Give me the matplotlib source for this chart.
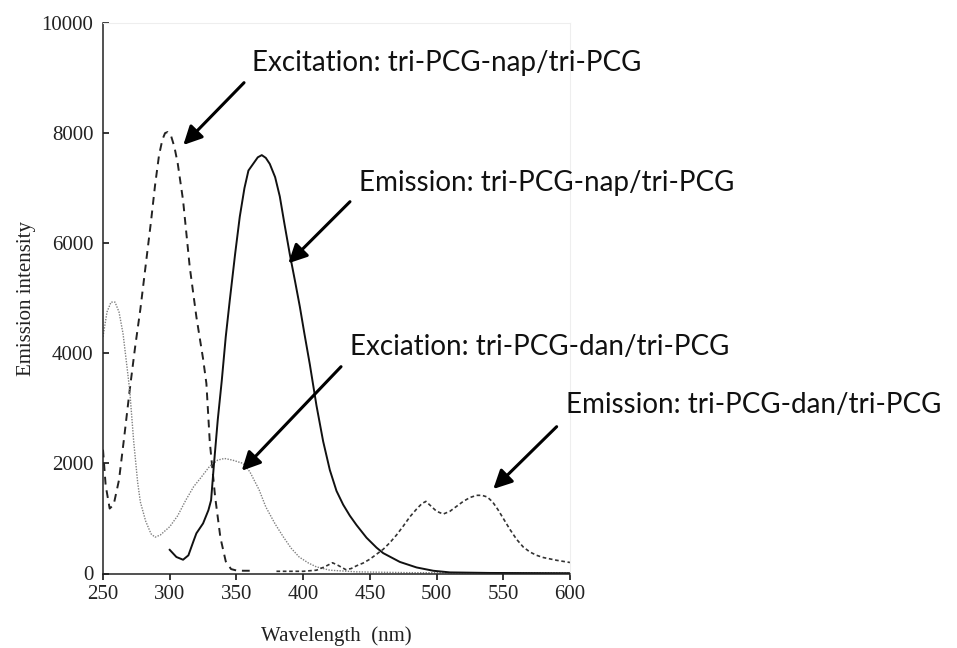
import matplotlib
matplotlib.use("Agg")
import matplotlib.pyplot as plt

# excitation, tri-PCG-nap/tri-PCG (long dashes)
wl_ex_nap = [250, 252, 255, 258, 262, 266, 270, 274, 278, 282, 286, 289, 292, 294.5, 296.5, 298.5,
             301, 303.5, 306, 310, 315, 320, 325, 327.5, 330, 334, 338, 342, 346, 350, 355, 360]
ex_nap = [2250, 1600, 1180, 1250, 1700, 2500, 3330, 4100, 4800, 5600, 6400, 7050, 7600, 7880, 8000, 8020,
          7950, 7750, 7450, 6780, 5570, 4660, 3900, 3450, 2400, 1400, 650, 220, 80, 55, 50, 50]

# excitation, tri-PCG-dan/tri-PCG (fine dots)
wl_ex_dan = [250, 253, 256, 259, 262, 265, 268, 270, 273, 276, 278, 282, 286, 289, 293, 300,
             306, 312, 318, 323, 330, 336, 341, 347, 355, 360, 367, 372, 379, 385, 391, 397,
             404, 410, 420, 440, 480, 600]
ex_dan = [4300, 4750, 4930, 4930, 4750, 4360, 3750, 3330, 2400, 1650, 1300, 950, 720, 660, 700, 850,
          1050, 1330, 1580, 1730, 1950, 2060, 2090, 2060, 2000, 1850, 1520, 1210, 900, 670, 460, 300,
          190, 120, 60, 30, 15, 10]

# emission, tri-PCG-nap/tri-PCG (solid)
wl_em_nap = [300, 305, 310, 314, 318, 320, 325, 329, 331, 333, 336, 339, 342, 345, 349, 352.5,
             356, 359, 362.5, 366, 369, 372, 375, 379, 382.5, 386, 390, 394, 397.5, 401, 405,
             410, 415, 420, 425, 430, 435, 440, 447.5, 455, 460, 472.5, 485, 497.5, 510, 540, 600]
em_nap = [430, 300, 250, 330, 600, 730, 910, 1150, 1330, 1940, 2790, 3500, 4300, 4960, 5800, 6480,
          7000, 7320, 7440, 7560, 7600, 7550, 7440, 7200, 6850, 6350, 5800, 5300, 4850, 4350, 3800,
          3050, 2400, 1880, 1500, 1250, 1050, 880, 650, 470, 370, 210, 110, 50, 20, 10, 5]

# emission, tri-PCG-dan/tri-PCG (short dashes)
wl_em_dan = [380, 390, 400, 410, 416, 422, 426, 432, 436, 440, 445, 450, 455, 460, 465, 470, 475,
             480, 485, 489, 492, 496, 500, 505, 510, 515, 520, 525, 530, 534, 538, 542, 546, 550,
             555, 560, 565, 570, 575, 580, 590, 600]
em_dan = [40, 40, 40, 60, 120, 195, 150, 70, 90, 140, 190, 260, 350, 440, 560, 700, 860,
          1030, 1170, 1270, 1310, 1220, 1130, 1080, 1130, 1220, 1310, 1380, 1420, 1420, 1390, 1300, 1160, 1000,
          800, 620, 480, 390, 330, 290, 240, 200]

# annotation labels: (text, text pos in fig px (left, centre y), arrow tail, arrow tip in data units)
labels = [
    ("Excitation: tri-PCG-nap/tri-PCG", (252, 63), (355.7, 8916), (310.2, 7784)),
    ("Emission: tri-PCG-nap/tri-PCG", (359, 183), (435.1, 6754), (388.9, 5635)),
    ("Exciation: tri-PCG-dan/tri-PCG", (350, 347), (428.4, 3757), (354.0, 1867)),
    ("Emission: tri-PCG-dan/tri-PCG", (566, 405), (590.0, 2667), (542.5, 1535)),
]

W, H = 957, 648
fig, ax = plt.subplots(figsize=(W / 100, H / 100), dpi=100)
fig.subplots_adjust(left=103 / W, right=570 / W, bottom=1 - 573.5 / H, top=1 - 23 / H)

ax.plot(wl_ex_nap, ex_nap, color='#222222', lw=1.4, linestyle=(0, (4, 3)))
ax.plot(wl_ex_dan, ex_dan, color='#808080', lw=1.0, linestyle=(0, (1, 1)))
ax.plot(wl_em_nap, em_nap, color='#111111', lw=1.4)
ax.plot(wl_em_dan, em_dan, color='#333333', lw=1.2, linestyle=(0, (2.2, 1.6)))

ax.set_xlim(250, 600)
ax.set_ylim(0, 10000)
ax.set_xticks(range(250, 601, 50))
ax.set_yticks(range(0, 10001, 2000))

serif = ['Liberation Serif', 'DejaVu Serif']
for lab in ax.get_xticklabels() + ax.get_yticklabels():
    lab.set_family(serif)
    lab.set_fontsize(15)
    lab.set_color('#222222')
ax.tick_params(axis='x', direction='out', length=4.5, width=1.1, pad=3.5)
ax.tick_params(axis='y', direction='in', length=4.5, width=1.1, pad=7)

for side in ['left', 'bottom']:
    ax.spines[side].set_linewidth(1.1)
    ax.spines[side].set_color('#222222')
for side in ['top', 'right']:
    ax.spines[side].set_color('#eeeeee')
    ax.spines[side].set_linewidth(0.8)

ax.set_xlabel('Wavelength  (nm)', family=serif, fontsize=15, color='#222222', labelpad=16)
ax.set_ylabel('Emission intensity', family=serif, fontsize=15, color='#222222', labelpad=4)

for text, (tx, ty), tail, tip in labels:
    fig.text(tx / W, 1 - ty / H, text, family=['Lato', 'DejaVu Sans'], fontsize=20,
             ha='left', va='center', color='#111111')
    ax.annotate('', xy=tip, xytext=tail, annotation_clip=False,
                arrowprops=dict(arrowstyle='-|>', color='black', lw=2.2,
                                mutation_scale=28, shrinkA=0, shrinkB=0))

fig.savefig('out.png', dpi=100)
